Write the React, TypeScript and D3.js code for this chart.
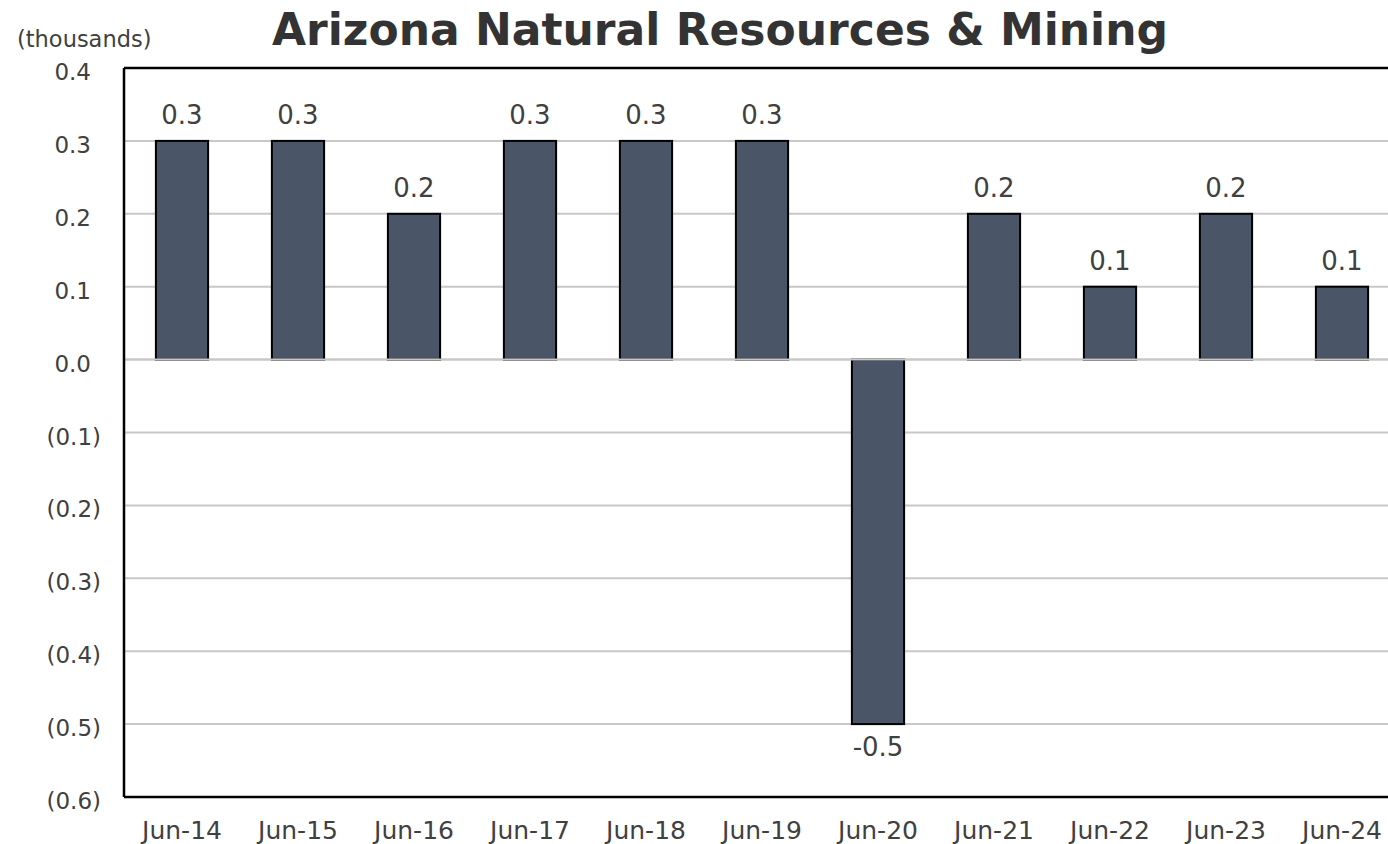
import React from "react";
import * as d3 from "d3";

const categories = ["Jun-14", "Jun-15", "Jun-16", "Jun-17", "Jun-18", "Jun-19", "Jun-20", "Jun-21", "Jun-22", "Jun-23", "Jun-24"];
const values = [0.3, 0.3, 0.2, 0.3, 0.3, 0.3, -0.5, 0.2, 0.1, 0.2, 0.1];
const yTicks = [0.4, 0.3, 0.2, 0.1, 0.0, -0.1, -0.2, -0.3, -0.4, -0.5, -0.6];

const W = 1388;
const H = 844;
const left = 124;
const right = 1400;
const top = 68;
const bottom = 797;
const font = "'DejaVu Sans', Verdana, sans-serif";
const textColor = "#404040";

function fmtTick(v: number) {
  const s = Math.abs(v).toFixed(1);
  return v < -1e-9 ? `(${s})` : s;
}

export default function App() {
  const x = d3.scaleBand<string>().domain(categories).range([left, right]).paddingInner(0.55).paddingOuter(0.275);
  const y = d3.scaleLinear().domain([-0.6, 0.4]).range([bottom, top]);
  const y0 = y(0);
  return (
    <svg width={W} height={H} style={{ position: "absolute", left: 0, top: 0, background: "#fff" }} fontFamily={font}>
      <rect x={0} y={0} width={W} height={H} fill="#fff" />
      {yTicks.map((t) => (
        <line key={"g" + t} x1={left} x2={right} y1={y(t)} y2={y(t)} stroke="#c8c8c8" strokeWidth={2} />
      ))}
      {categories.map((c, i) => {
        const v = values[i];
        const yt = y(Math.max(0, v));
        const yb = y(Math.min(0, v));
        return (
          <g key={c}>
            <rect x={x(c)} y={yt} width={x.bandwidth()} height={yb - yt} fill="#4a5568" stroke="#000" strokeWidth={2} />
            <text
              x={(x(c) as number) + x.bandwidth() / 2}
              y={v >= 0 ? yt - 17 : yb + 32}
              textAnchor="middle"
              fontSize={26}
              fill={textColor}
            >
              {v.toFixed(1)}
            </text>
            <text x={(x(c) as number) + x.bandwidth() / 2} y={839} textAnchor="middle" fontSize={25} fill={textColor}>
              {c}
            </text>
          </g>
        );
      })}
      <line x1={left} x2={right} y1={y0} y2={y0} stroke="#c8c8c8" strokeWidth={2} />
      <line x1={left} x2={left} y1={top} y2={bottom} stroke="#000" strokeWidth={2.5} />
      <line x1={left} x2={right} y1={top} y2={top} stroke="#000" strokeWidth={2.5} />
      <line x1={left} x2={right} y1={bottom} y2={bottom} stroke="#000" strokeWidth={2.5} />
      {yTicks.map((t) => (
        <text key={"t" + t} x={t < -1e-9 ? 101 : 91} y={y(t) + 12} textAnchor="end" fontSize={23} fill={textColor}>
          {fmtTick(t)}
        </text>
      ))}
      <text x={17} y={47} fontSize={22.5} fill={textColor}>(thousands)</text>
      <text x={720} y={45} textAnchor="middle" fontSize={44} fontWeight="bold" fill="#333">
        Arizona Natural Resources &amp; Mining
      </text>
    </svg>
  );
}
